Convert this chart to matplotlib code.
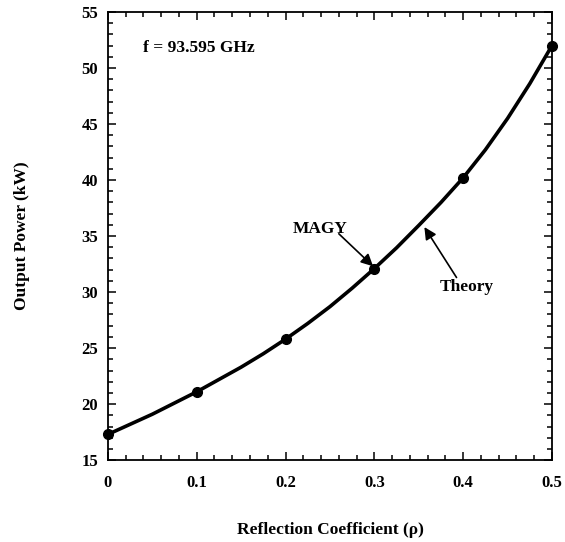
import numpy as np
import matplotlib
matplotlib.use("Agg")
import matplotlib.pyplot as plt
from matplotlib.ticker import MultipleLocator

# MAGY simulation points
rho_magy   = [0.0, 0.1, 0.2, 0.3, 0.4, 0.5]
power_magy = [17.3, 21.1, 25.8, 32.1, 40.2, 52.0]

# theory curve, every 0.025
rho_theory   = [0.0, 0.025, 0.05, 0.075, 0.1, 0.125, 0.15, 0.175, 0.2, 0.225, 0.25,
                0.275, 0.3, 0.325, 0.35, 0.375, 0.4, 0.425, 0.45, 0.475, 0.5]
power_theory = [17.3, 18.2, 19.1, 20.1, 21.1, 22.2, 23.3, 24.5, 25.8, 27.2, 28.7,
                30.35, 32.1, 33.95, 35.95, 38.0, 40.2, 42.7, 45.5, 48.6, 52.0]

x_ticks = [0, 0.1, 0.2, 0.3, 0.4, 0.5]
x_tick_labels = ["0", "0.1", "0.2", "0.3", "0.4", "0.5"]
y_ticks = [15, 20, 25, 30, 35, 40, 45, 50, 55]

plt.rcParams['font.family'] = ['Liberation Serif', 'DejaVu Serif']
plt.rcParams['font.weight'] = 'bold'

fig = plt.figure(figsize=(5.65, 5.42), dpi=100)
ax = fig.add_axes([0.191, 0.151, 0.786, 0.827])

ax.plot(rho_theory, power_theory, color="black", lw=2.6, solid_capstyle="round", clip_on=False)
ax.plot(rho_magy, power_magy, "o", color="black", ms=7, clip_on=False, zorder=5)

ax.set_xlim(0, 0.5)
ax.set_ylim(15, 55)
ax.set_xticks(x_ticks)
ax.set_xticklabels(x_tick_labels)
ax.set_yticks(y_ticks)
ax.xaxis.set_minor_locator(MultipleLocator(0.02))
ax.yaxis.set_minor_locator(MultipleLocator(1))
ax.tick_params(which="both", direction="in", top=True, right=True, width=1.1)
ax.tick_params(which="major", length=6)
ax.tick_params(which="minor", length=3.5)
ax.tick_params(axis="x", which="major", pad=11, labelsize=12)
ax.tick_params(axis="y", which="major", pad=7, labelsize=12)
for lab in ax.get_xticklabels() + ax.get_yticklabels():
    lab.set_fontweight("bold")
for sp in ax.spines.values():
    sp.set_linewidth(1.3)

ax.set_xlabel("Reflection Coefficient (\u03c1)", fontsize=12.5, fontweight="bold")
ax.set_ylabel("Output Power (kW)", fontsize=12.5, fontweight="bold")
ax.xaxis.set_label_coords(0.5, -0.138)
ax.yaxis.set_label_coords(-0.176, 0.5)

ax.text(0.04, 51.8, "f = 93.595 GHz", fontsize=12.5, fontweight="bold", va="center", ha="left")

arrow = dict(arrowstyle="-|>", color="black", lw=1.2, mutation_scale=18, shrinkA=0, shrinkB=0)
ax.text(0.2387, 35.6, "MAGY", fontsize=12.5, fontweight="bold", ha="center", va="center")
ax.annotate("", xy=(0.2986, 32.3), xytext=(0.260, 35.2), arrowprops=arrow)
ax.text(0.404, 30.45, "Theory", fontsize=12.5, fontweight="bold", ha="center", va="center")
ax.annotate("", xy=(0.3563, 35.8), xytext=(0.3925, 31.3), arrowprops=arrow)

fig.savefig("out.png", dpi=100)
